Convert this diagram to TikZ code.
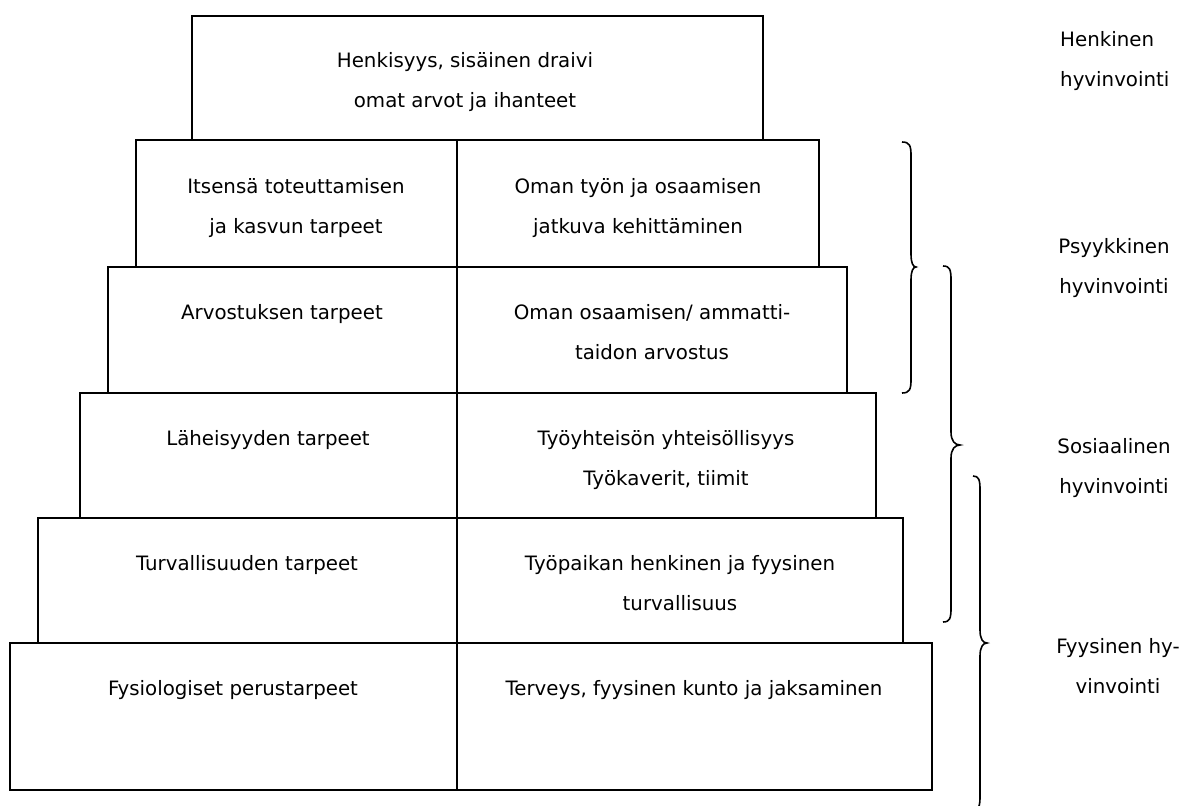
\documentclass[tikz,border=0pt]{standalone}
\usepackage{fontspec}
\setmainfont{DejaVu Sans}
\tikzset{
  box/.style={draw=black, line width=1.8pt},
  brace/.style={draw=black, line width=1.6pt},
  txt/.style={anchor=base, align=center, inner sep=0pt, font=\fontsize{19.8}{40}\selectfont},
}
\begin{document}
\begin{tikzpicture}[x=1pt,y=-1pt]
\useasboundingbox (0,0) rectangle (1184,806);
% boxes
\draw[box] (192,16) rectangle (763,140);
\draw[box] (136,140) rectangle (819,267);
\draw[box] (108,267) rectangle (847,393);
\draw[box] (80,393) rectangle (876,518);
\draw[box] (38,518) rectangle (903,643);
\draw[box] (10,643) rectangle (932,790);
\draw[box] (457,140) -- (457,790);
% texts (base anchor = baseline of the last line)
\node[txt] (t1) at (465,107) {Henkisyys, sisäinen draivi\\omat arvot ja ihanteet};
\node[txt] (l2) at (296,233) {Itsensä toteuttamisen\\ja kasvun tarpeet};
\node[txt] (r2) at (638,233) {Oman työn ja osaamisen\\jatkuva kehittäminen};
\node[txt] (l3) at (282,319) {Arvostuksen tarpeet};
\node[txt] (r3) at (652,359) {Oman osaamisen/ ammatti-\\taidon arvostus};
\node[txt] (l4) at (268,445) {Läheisyyden tarpeet};
\node[txt] (r4) at (666,485) {Työyhteisön yhteisöllisyys\\Työkaverit, tiimit};
\node[txt] (l5) at (247,570) {Turvallisuuden tarpeet};
\node[txt] (r5) at (680,610) {Työpaikan henkinen ja fyysinen\\turvallisuus};
\node[txt] (l6) at (233,695) {Fysiologiset perustarpeet};
\node[txt] (r6) at (694,695) {Terveys, fyysinen kunto ja jaksaminen};
% labels
\node[txt, anchor=base west, align=left] (h1) at (1060,86) {Henkinen\\hyvinvointi};
\node[txt] (h2) at (1114,293) {Psyykkinen\\hyvinvointi};
\node[txt] (h3) at (1114,493) {Sosiaalinen\\hyvinvointi};
\node[txt] (h4) at (1118,693) {Fyysinen hy-\\vinvointi};
% braces
\draw[brace] (902,142) .. controls (910,142) and (911,146) .. (911,156) -- (911,254)
  .. controls (911,263) and (913,267) .. (916,267)
  .. controls (913,267) and (911,271) .. (911,280) -- (911,379)
  .. controls (911,389) and (910,393) .. (902,393);
\draw[brace] (943,266) .. controls (950,266) and (951,270) .. (951,280) -- (951,432)
  .. controls (951,441) and (955,445) .. (960,445)
  .. controls (955,445) and (951,449) .. (951,458) -- (951,608)
  .. controls (951,618) and (950,622) .. (943,622);
\draw[brace] (973,476) .. controls (979,476) and (980,480) .. (980,490) -- (980,630)
  .. controls (980,639) and (983,643) .. (987,643)
  .. controls (983,643) and (980,647) .. (980,656) -- (980,796)
  .. controls (980,806) and (979,810) .. (973,810);
\end{tikzpicture}
\end{document}
